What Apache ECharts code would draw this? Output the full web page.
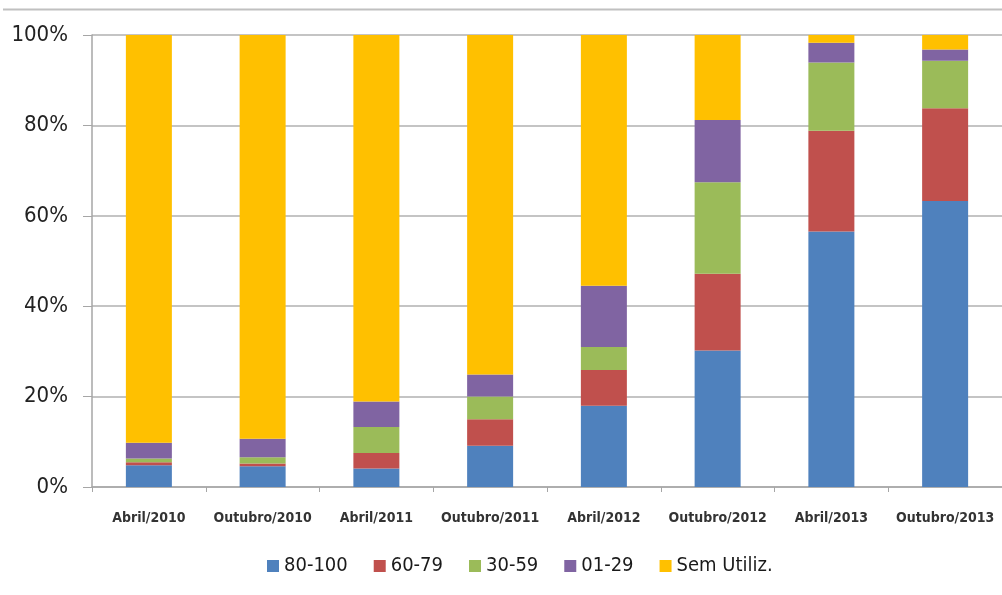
<!DOCTYPE html>
<html>
<head>
<meta charset="utf-8">
<script src="https://cdn.jsdelivr.net/npm/echarts@6/dist/echarts.min.js"></script>
<style>
  html, body { margin: 0; padding: 0; background: #fff; }
  #chart { width: 1002px; height: 595px; }
</style>
</head>
<body>
<div id="chart"></div>
<script>
// periods on the x axis
const periods = ['Abril/2010', 'Outubro/2010', 'Abril/2011', 'Outubro/2011',
                 'Abril/2012', 'Outubro/2012', 'Abril/2013', 'Outubro/2013'];

// share (%) of each usage band per period
const band80to100 = [4.8, 4.6, 4.1, 9.1, 18.0, 30.2, 56.5, 63.3];
const band60to79  = [0.7, 0.6, 3.4, 5.9, 7.9, 17.0, 22.3, 20.5];
const band30to59  = [0.8, 1.4, 5.8, 5.0, 5.1, 20.2, 15.1, 10.5];
const band01to29  = [3.5, 4.1, 5.6, 4.9, 13.5, 13.8, 4.4, 2.5];
const semUtiliz   = [90.2, 89.3, 81.1, 75.1, 55.5, 18.8, 1.7, 3.2];

const yTicks = [0, 20, 40, 60, 80, 100];

const font = '"Liberation Sans Narrow", "DejaVu Sans Condensed", "Liberation Sans", sans-serif';

const chart = echarts.init(document.getElementById('chart'));

function band(name, data, color) {
  return {
    name: name,
    type: 'bar',
    stack: 'total',
    barWidth: 46,
    data: data,
    itemStyle: { color: color },
    emphasis: { disabled: true }
  };
}

chart.setOption({
  animation: false,
  textStyle: { fontFamily: font },
  graphic: [{
    type: 'line',
    shape: { x1: 3, y1: 9.5, x2: 1002, y2: 9.5 },
    style: { stroke: '#c0c0c0', lineWidth: 2 }
  }],
  grid: { left: 92, right: -3, top: 35, bottom: 108 },
  legend: {
    bottom: 14,
    left: 262,
    itemWidth: 12,
    itemHeight: 12,
    itemGap: 26,
    icon: 'rect',
    textStyle: { fontSize: 20, color: '#1a1a1a', fontFamily: font },
    data: ['80-100', '60-79', '30-59', '01-29', 'Sem Utiliz.']
  },
  xAxis: {
    type: 'category',
    data: periods,
    axisLine: { lineStyle: { color: '#a6a6a6', width: 1.5 } },
    axisTick: { show: true, interval: 0, length: 5, alignWithLabel: false, lineStyle: { color: '#a6a6a6' } },
    axisLabel: { interval: 0, margin: 24, fontSize: 14, fontWeight: 'bold', color: '#333', fontFamily: font }
  },
  yAxis: {
    type: 'value',
    min: yTicks[0],
    max: yTicks[yTicks.length - 1],
    interval: 20,
    axisLine: { show: true, lineStyle: { color: '#a6a6a6', width: 1.5 } },
    axisTick: { show: true, length: 9, lineStyle: { color: '#a6a6a6' } },
    axisLabel: {
      margin: 24, fontSize: 22, color: '#222', fontFamily: font,
      formatter: v => v + '%'
    },
    splitLine: { lineStyle: { color: '#b0b0b0', width: 1.5 } }
  },
  series: [
    band('80-100', band80to100, '#4f81bd'),
    band('60-79', band60to79, '#c0504d'),
    band('30-59', band30to59, '#9bbb59'),
    band('01-29', band01to29, '#8064a2'),
    band('Sem Utiliz.', semUtiliz, '#ffc000')
  ]
});
</script>
</body>
</html>
